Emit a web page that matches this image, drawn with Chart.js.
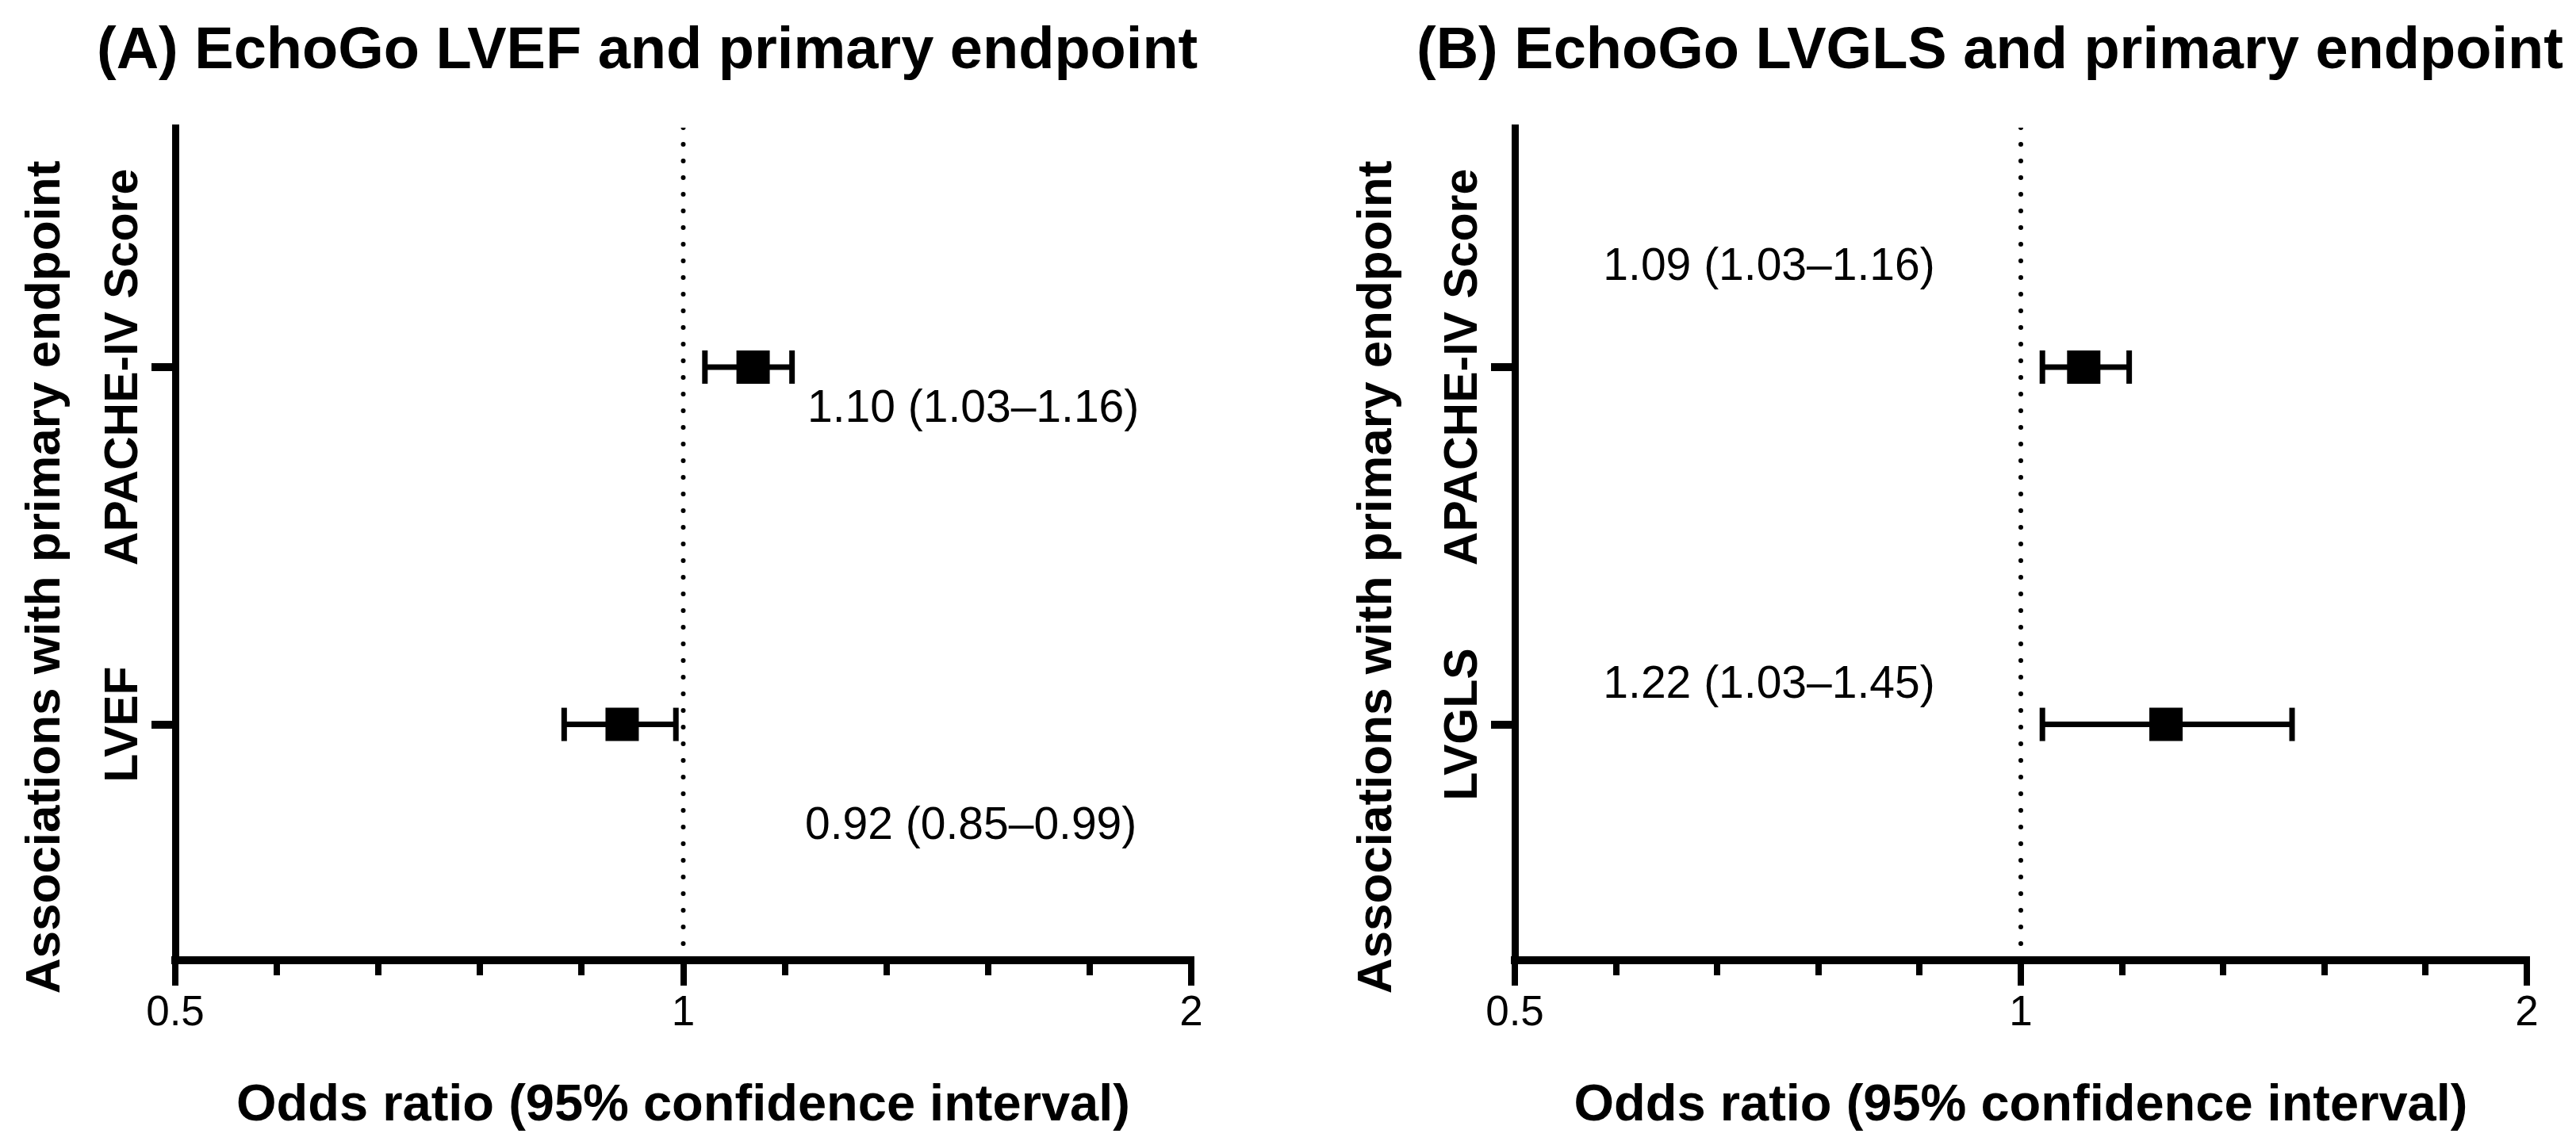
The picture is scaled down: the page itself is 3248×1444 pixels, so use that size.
<!DOCTYPE html>
<html>
<head>
<meta charset="utf-8">
<script src="https://cdn.jsdelivr.net/npm/chart.js@4.4.1/dist/chart.umd.min.js"></script>
<style>
  html, body { margin: 0; padding: 0; background: #fff; }
  #wrap { position: relative; width: 3248px; height: 1444px; }
  .panel { position: absolute; top: 0; width: 1624px; height: 1444px; }
</style>
</head>
<body>
<div id="wrap">
  <div class="panel" style="left:0"><canvas id="chartA" width="1624" height="1444"></canvas></div>
  <div class="panel" style="left:1624px"><canvas id="chartB" width="1624" height="1444"></canvas></div>
</div>
<script>
// values
var titleA = '(A) EchoGo LVEF and primary endpoint';
var titleB = '(B) EchoGo LVGLS and primary endpoint';
var categoriesA = ['APACHE-IV Score', 'LVEF'];
var oddsA = [1.10, 0.92];
var lowerA = [1.03, 0.85];
var upperA = [1.16, 0.99];
var categoriesB = ['APACHE-IV Score', 'LVGLS'];
var oddsB = [1.09, 1.22];
var lowerB = [1.03, 1.03];
var upperB = [1.16, 1.45];
var xTicks = [0.5, 1, 2];
var xTickLabels = ['0.5', '1', '2'];
var minorPerMajor = 4;
var referenceOR = 1;
var xTitle = 'Odds ratio (95% confidence interval)';
var yTitle = 'Associations with primary endpoint';

var FONT = '"Liberation Sans", Arial, Helvetica, sans-serif';
Chart.defaults.font.family = FONT;
Chart.defaults.color = '#000';

var Y_MIN = 0.33, Y_MAX = 2.66;

// layout only: plot edges and where the text boxes sit (x in OR, y in row units)
var layoutA = { left: 221, right: 1502, titleX: 122, yTitleX: 75, textAt: [[1.1845, 1.153], [1.1807, 2.321]] };
var layoutB = { left: 286, right: 1562, titleX: 162, yTitleX: 130, textAt: [[0.5643, 0.756], [0.5643, 1.926]] };

// log2 axis: minor ticks evenly spaced between majors
var allTicks = [];
for (var i = 0; i < xTicks.length; i++) {
    allTicks.push(xTicks[i]);
    if (i < xTicks.length - 1) {
        var ratio = xTicks[i + 1] / xTicks[i];
        for (var k = 1; k <= minorPerMajor; k++) {
            allTicks.push(xTicks[i] * Math.pow(ratio, k / (minorPerMajor + 1)));
        }
    }
}

function majorIndex(v) {
    for (var i = 0; i < xTicks.length; i++) {
        if (Math.abs(xTicks[i] - v) < 1e-9) return i;
    }
    return -1;
}

function fmt(v) { return v.toFixed(2); }

var textPlugin = {
    id: 'panelText',
    afterDraw: function (chart, args, opts) {
        var ctx = chart.ctx, xs = chart.scales.x, ys = chart.scales.y, area = chart.chartArea;
        ctx.save();
        ctx.fillStyle = '#000';
        ctx.textBaseline = 'alphabetic';

        ctx.font = 'bold 74px ' + FONT;
        ctx.textAlign = 'left';
        ctx.fillText(opts.title, opts.titleX, 86);

        ctx.save();
        ctx.translate(opts.yTitleX, 728);
        ctx.rotate(-Math.PI / 2);
        ctx.textAlign = 'center';
        ctx.font = 'bold 62px ' + FONT;
        ctx.fillText(yTitle, 0, 0);
        ctx.restore();

        ctx.font = 'bold 59px ' + FONT;
        opts.categories.forEach(function (c, i) {
            ctx.save();
            ctx.translate(area.left - 48, ys.getPixelForValue(i + 1));
            ctx.rotate(-Math.PI / 2);
            ctx.textAlign = 'center';
            ctx.fillText(c, 0, 0);
            ctx.restore();
        });

        ctx.font = '57px ' + FONT;
        ctx.textAlign = 'left';
        opts.odds.forEach(function (v, i) {
            var p = opts.textAt[i];
            var txt = fmt(v) + ' (' + fmt(opts.lower[i]) + '\u2013' + fmt(opts.upper[i]) + ')';
            ctx.fillText(txt, xs.getPixelForValue(p[0]), ys.getPixelForValue(p[1]));
        });
        ctx.restore();
    }
};

function buildDatasets(odds, lower, upper) {
    var sets = [];
    // dotted line of no effect
    sets.push({
        data: [{ x: referenceOR, y: Y_MIN }, { x: referenceOR, y: Y_MAX }],
        showLine: true,
        borderColor: '#000',
        borderWidth: 6,
        borderDash: [0, 21],
        borderCapStyle: 'round',
        pointRadius: 0,
        order: 3
    });
    // confidence intervals with caps
    odds.forEach(function (v, i) {
        sets.push({
            data: [{ x: lower[i], y: i + 1 }, { x: upper[i], y: i + 1 }],
            showLine: true,
            borderColor: '#000',
            borderWidth: 7,
            pointStyle: 'line',
            pointRotation: 90,
            pointRadius: 21,
            pointBorderWidth: 7,
            pointBorderColor: '#000',
            order: 2
        });
    });
    // point estimates
    sets.push({
        data: odds.map(function (v, i) { return { x: v, y: i + 1 }; }),
        pointStyle: 'rect',
        pointRadius: 29.7,
        pointBackgroundColor: '#000',
        pointBorderWidth: 0,
        order: 1
    });
    return sets;
}

function makeChart(id, title, categories, odds, lower, upper, L) {
    var rows = categories.map(function (c, i) { return i + 1; });
    return new Chart(document.getElementById(id), {
        type: 'scatter',
        data: { datasets: buildDatasets(odds, lower, upper) },
        options: {
            responsive: false,
            animation: false,
            devicePixelRatio: 1,
            events: [],
            layout: { padding: { left: 0, right: 1624 - L.right, top: 161, bottom: 0 } },
            plugins: {
                legend: { display: false },
                tooltip: { enabled: false },
                panelText: { title: title, titleX: L.titleX, yTitleX: L.yTitleX, categories: categories,
                             odds: odds, lower: lower, upper: upper, textAt: L.textAt }
            },
            scales: {
                x: {
                    type: 'logarithmic',
                    min: xTicks[0],
                    max: xTicks[xTicks.length - 1],
                    afterBuildTicks: function (s) {
                        s.ticks = allTicks.map(function (v) { return { value: v }; });
                    },
                    afterFit: function (s) { s.height = 233; },
                    ticks: {
                        autoSkip: false,
                        maxRotation: 0,
                        minRotation: 0,
                        padding: 4,
                        color: '#000',
                        font: { size: 53, lineHeight: 1.2 },
                        callback: function (v) {
                            var m = majorIndex(v);
                            return m < 0 ? '' : xTickLabels[m];
                        }
                    },
                    grid: {
                        drawOnChartArea: false,
                        drawTicks: true,
                        tickLength: 32,
                        color: '#000',
                        lineWidth: 8,
                        tickWidth: 8,
                        tickColor: '#000',
                        tickBorderDash: function (c) {
                            return (c.tick && majorIndex(c.tick.value) >= 0) ? [] : [14, 200];
                        }
                    },
                    border: { display: true, color: '#000', width: 10 },
                    title: {
                        display: true,
                        text: xTitle,
                        color: '#000',
                        font: { size: 65, weight: 'bold', lineHeight: 1.2 },
                        padding: { top: 0, bottom: 10 }
                    }
                },
                y: {
                    type: 'linear',
                    reverse: true,
                    min: Y_MIN,
                    max: Y_MAX,
                    afterBuildTicks: function (s) {
                        s.ticks = rows.map(function (v) { return { value: v }; });
                    },
                    afterFit: function (s) { s.width = L.left; },
                    ticks: { display: false },
                    grid: {
                        drawOnChartArea: false,
                        drawTicks: true,
                        tickLength: 30,
                        color: '#000',
                        lineWidth: 10,
                        tickWidth: 10,
                        tickColor: '#000'
                    },
                    border: { display: true, color: '#000', width: 9 }
                }
            }
        },
        plugins: [textPlugin]
    });
}

makeChart('chartA', titleA, categoriesA, oddsA, lowerA, upperA, layoutA);
makeChart('chartB', titleB, categoriesB, oddsB, lowerB, upperB, layoutB);
</script>
</body>
</html>
